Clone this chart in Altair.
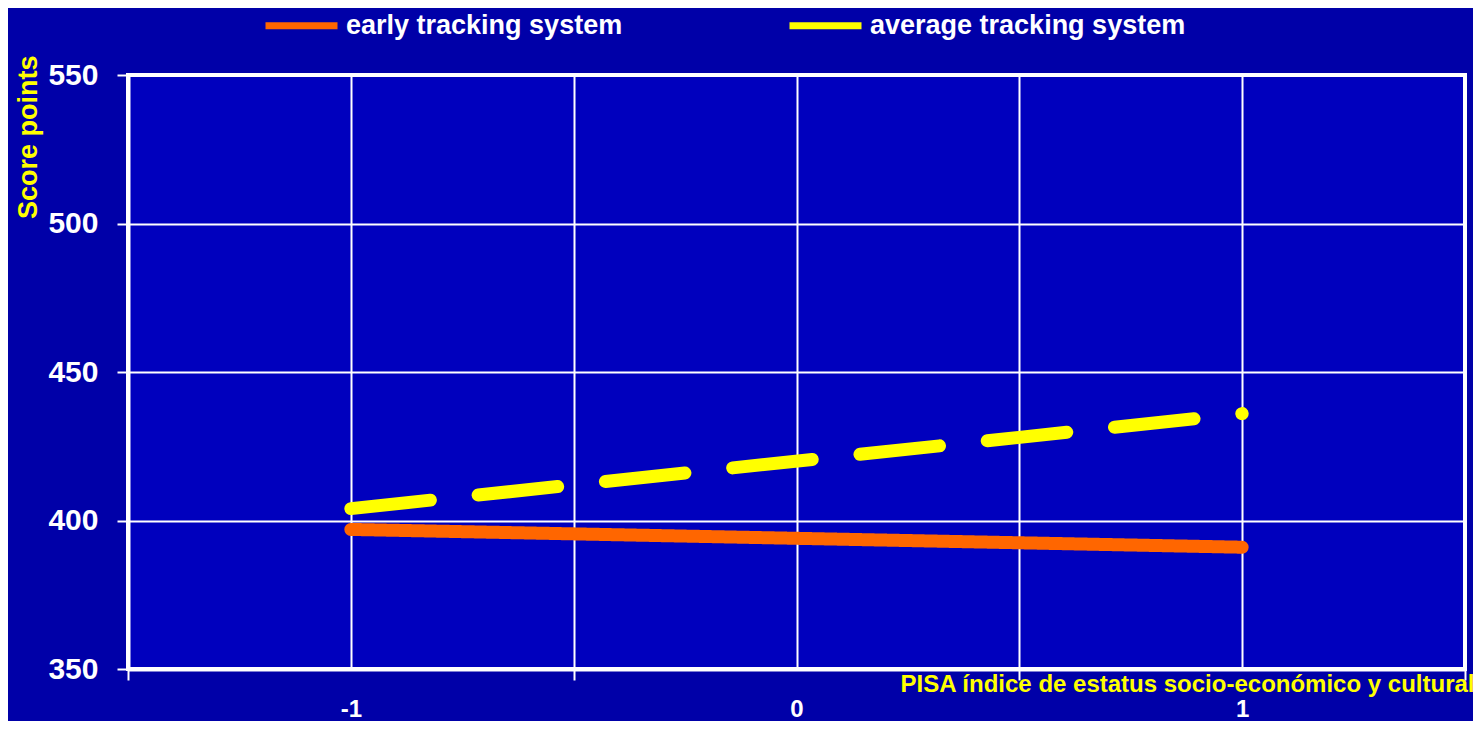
import altair as alt
import pandas as pd

# ---- data ----
series_names = ["early tracking system", "average tracking system"]
x_points = [-1, 1]
early_scores = [397, 391]
average_scores = [404, 436]

x_axis_values = [-1.5, -1, -0.5, 0, 0.5, 1, 1.5]
y_axis_values = [350, 400, 450, 500, 550]

x_title = "PISA  índice de estatus socio-económico y cultural"
y_title = "Score points"

df = pd.DataFrame({
    "x": x_points + x_points,
    "score": early_scores + average_scores,
    "series": [series_names[0]] * len(x_points) + [series_names[1]] * len(x_points),
})

FONT = "Liberation Sans"
WHITE = "#FFFFFF"
YELLOW = "#FFFF00"
ORANGE = "#FF6600"

legend = alt.Legend(
    title=None,
    orient="none",
    legendX=134,
    legendY=-89,
    direction="horizontal",
    columns=2,
    columnPadding=152,
    padding=0,
    symbolType="stroke",
    symbolSize=5184,
    symbolStrokeWidth=7,
    labelOffset=5,
    labelFont=FONT,
    labelFontSize=27,
    labelFontWeight="bold",
    labelColor=WHITE,
    labelLimit=0,
)

chart = alt.Chart(df).mark_line(strokeWidth=13, strokeCap="round").encode(
    x=alt.X(
        "x:Q",
        scale=alt.Scale(domain=[-1.5, 1.5], nice=False, zero=False),
        axis=alt.Axis(
            values=x_axis_values,
            title=x_title,
            titleFont=FONT,
            titleFontSize=24,
            titleFontWeight="bold",
            titleColor=YELLOW,
            titleX=1346,
            titleY=15,
            titleAlign="right",
            titleBaseline="middle",
            titleAngle=0,
            labelExpr="datum.value % 1 == 0 ? (datum.value < 0 ? '-' : '') + abs(datum.value) : ''",
            labelFont=FONT,
            labelFontSize=24,
            labelFontWeight="bold",
            labelColor=WHITE,
            labelPadding=17,
            labelFlush=False,
            labelOverlap=False,
            domainColor=WHITE,
            domainWidth=4,
            ticks=True,
            tickSize=11,
            tickWidth=2,
            tickColor={"condition": {"test": "datum.value % 1 != 0", "value": WHITE},
                       "value": "rgba(0,0,0,0)"},
            grid=True,
            gridColor=WHITE,
            gridWidth=2,
        ),
    ),
    y=alt.Y(
        "score:Q",
        scale=alt.Scale(domain=[350, 550], nice=False, zero=False),
        axis=alt.Axis(
            values=y_axis_values,
            title=y_title,
            titleFont=FONT,
            titleFontSize=27,
            titleFontWeight="bold",
            titleColor=YELLOW,
            titleAngle=270,
            titleX=-100,
            titleY=-20,
            titleAlign="right",
            titleBaseline="middle",
            labelFont=FONT,
            labelFontSize=30,
            labelFontWeight="bold",
            labelColor=WHITE,
            labelPadding=19,
            labelFlush=False,
            domainColor=WHITE,
            domainWidth=4,
            tickSize=11,
            tickWidth=2,
            tickColor=WHITE,
            grid=True,
            gridColor=WHITE,
            gridWidth=2,
        ),
    ),
    color=alt.Color(
        "series:N",
        scale=alt.Scale(domain=series_names, range=[ORANGE, YELLOW]),
        legend=legend,
    ),
    strokeDash=alt.StrokeDash(
        "series:N",
        scale=alt.Scale(domain=series_names, range=[[1, 0], [80, 48]]),
        legend=legend,
    ),
).properties(
    width=1337,
    height=594,
    autosize=alt.AutoSizeParams(type="none"),
    padding={"left": 120, "top": 67, "right": 8, "bottom": 52},
    background="#0000A8",
).configure_view(
    fill="#0000BE",
    stroke=WHITE,
    strokeWidth=4,
)

chart.save("out.html", embed_options={"renderer": "svg", "actions": False})
